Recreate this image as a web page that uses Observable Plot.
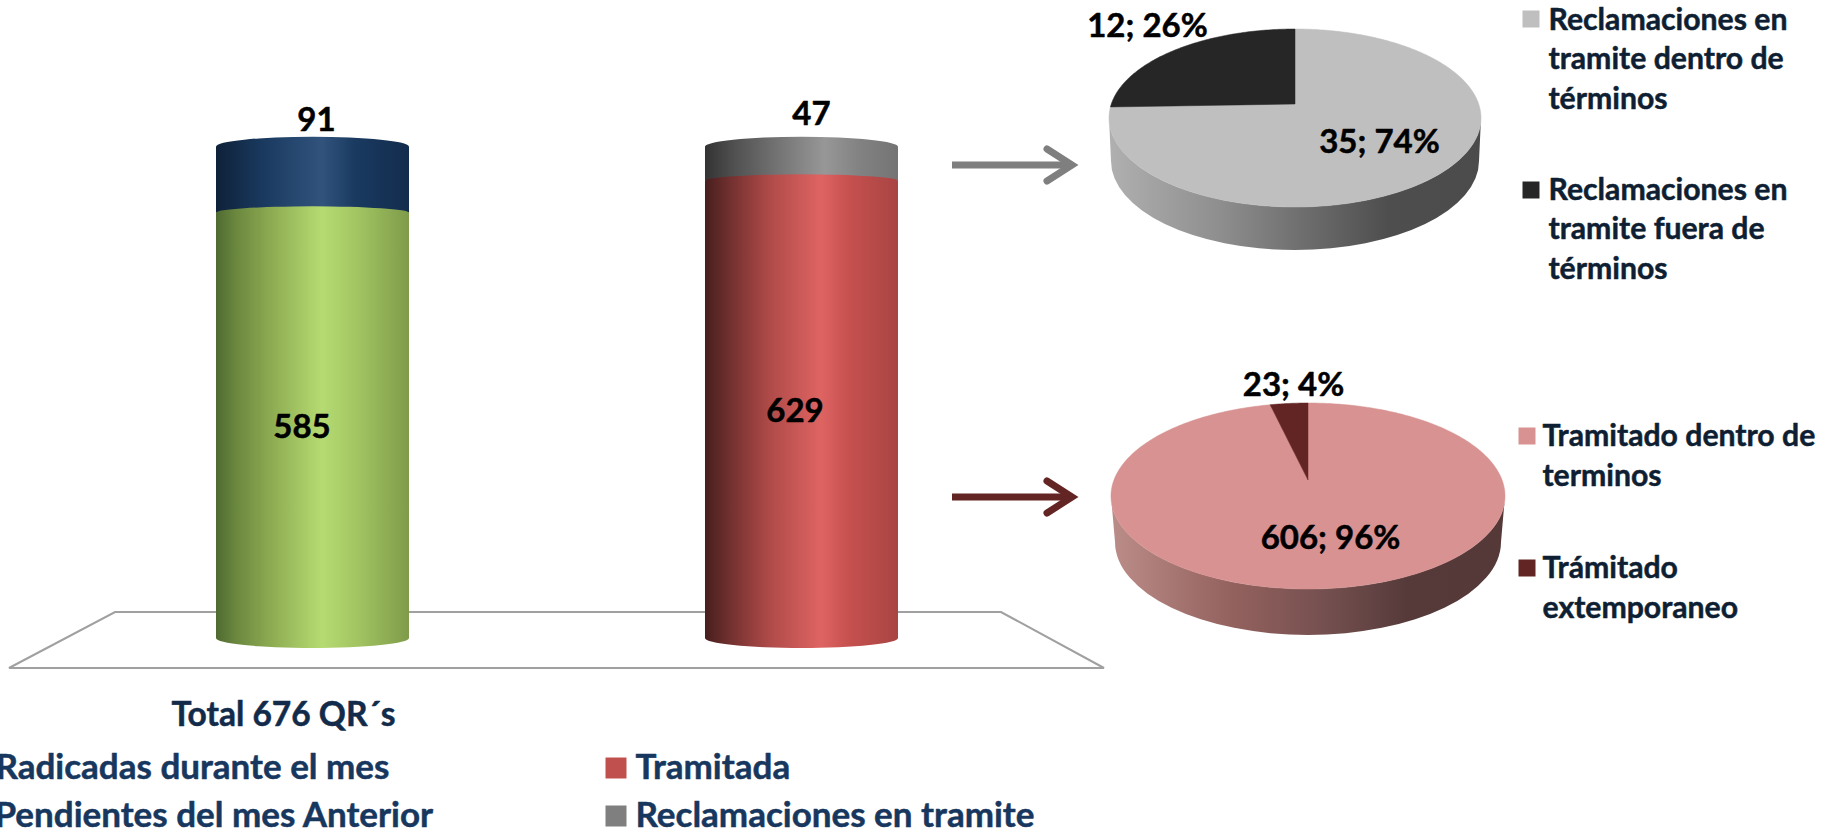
<!DOCTYPE html>
<html lang="es">
<head>
<meta charset="utf-8">
<script src="https://cdn.jsdelivr.net/npm/d3@7"></script>
<script src="https://cdn.jsdelivr.net/npm/@observablehq/plot@0.6"></script>
<style>
html,body{margin:0;padding:0;background:#fff;overflow:hidden}
svg{display:block}
</style>
</head>
<body>
<div id="chart"></div>
<script>
// --- Data ---
const barCategories = ["Total", "Gestion"];
const barSeries = ["Radicadas durante el mes", "Pendientes del mes Anterior", "Tramitada", "Reclamaciones en tramite"];
const barGroup = ["Total", "Total", "Gestion", "Gestion"];
const barValues = [585, 91, 629, 47];
const pieTopLabels = ["Reclamaciones en\ntramite dentro de\ntérminos", "Reclamaciones en\ntramite fuera de\ntérminos"];
const pieTopValues = [35, 12];
const pieLowLabels = ["Tramitado dentro de\nterminos", "Trámitado\nextemporaneo"];
const pieLowValues = [606, 23];
const titleText = "Total 676 QR´s";

// --- Styles ---
const FONT = "Lato, Carlito, sans-serif";
const NAVY = "#17375e";
const gradients = {
  "Radicadas durante el mes": [[0,"#4f6a31"],[.1,"#6a873e"],[.3,"#8fae53"],[.55,"#b6db72"],[.75,"#a0c260"],[1,"#7f9b4a"]],
  "Pendientes del mes Anterior": [[0,"#0e2139"],[.25,"#1a3a60"],[.55,"#31537c"],[.72,"#1a3a60"],[1,"#122c4d"]],
  "Tramitada": [[0,"#471e1e"],[.12,"#6f2f2e"],[.33,"#ae4a48"],[.6,"#de6462"],[.75,"#c5504e"],[1,"#a84543"]],
  "Reclamaciones en tramite": [[0,"#333333"],[.15,"#505050"],[.4,"#777777"],[.62,"#979797"],[.8,"#828282"],[1,"#747474"]]
};
const gid = s => "grad" + barSeries.indexOf(s);

const rows = barValues.map((value, i) => ({group: barGroup[i], serie: barSeries[i], value}));
const tops = barCategories.map(group => {
  const own = rows.filter(r => r.group === group);
  return {group, total: d3.sum(own, r => r.value), value: own[own.length - 1].value};
});

function renderCylinders(index, scales, values) {
  const g = d3.create("svg:g");
  const defs = g.append("defs");
  for (const s of barSeries) {
    const lg = defs.append("linearGradient").attr("id", gid(s));
    for (const [o, c] of gradients[s]) lg.append("stop").attr("offset", o).attr("stop-color", c);
  }
  const w = scales.x.bandwidth();
  const base = scales.y(0);
  const order = Array.from(index).sort((a, b) => values.y2[a] - values.y2[b]);
  for (const i of order) {
    const x0 = values.x[i], x1 = x0 + w;
    const top = Math.min(values.y1[i], values.y2[i]), bottom = Math.max(values.y1[i], values.y2[i]);
    const isBase = Math.abs(bottom - base) < 1;
    const rise = isBase ? 6.5 : 10;
    let d = `M${x0},${top}A${w/2},${rise} 0 0 1 ${x1},${top}L${x1},${bottom}`;
    d += isBase ? `A${w/2},10 0 0 1 ${x0},${bottom}Z` : `L${x0},${bottom}Z`;
    g.append("path").attr("d", d).attr("fill", `url(#${gid(rows[i].serie)})`);
  }
  return g.node();
}

// Base plane behind the cylinders
const plane = () => d3.create("svg:path")
  .attr("d", "M9,668L115,612L1001,612L1104,668Z")
  .attr("fill", "none").attr("stroke", "#a0a0a0").attr("stroke-width", 2).node();

const arrow = (y, color) => () => {
  const g = d3.create("svg:g").attr("fill", "none").attr("stroke", color).attr("stroke-width", 7);
  g.append("path").attr("d", `M952,${y}L1070,${y}`);
  g.append("path").attr("d", `M1047,${y-16}L1072,${y}L1047,${y+16}`)
    .attr("stroke-linecap", "round").attr("stroke-linejoin", "miter");
  return g.node();
};

// Pie in a tilted view: slices come from d3.pie, points through a perspective map of the disc.
function pie3d(vals, colors, side, o) {
  return () => {
    const g = d3.create("svg:g");
    const lg = g.append("defs").append("linearGradient").attr("id", o.id);
    side.forEach(([p, c]) => lg.append("stop").attr("offset", p).attr("stop-color", c));
    const {cx, cy, rx, ry, depth, a, inset} = o;
    g.append("path")
      .attr("d", `M${cx-rx},${cy}A${rx},${ry} 0 0 0 ${cx+rx},${cy}L${cx+rx-inset},${cy+depth}A${rx-inset},${ry} 0 0 1 ${cx-rx+inset},${cy+depth}Z`)
      .attr("fill", `url(#${o.id})`);
    const s = Math.sqrt(1 - a*a);
    const project = t => {
      const u = Math.sin(t), v = -Math.cos(t);
      const k = 1 + a*v;
      return [cx + rx*u*s/k, cy + ry*(v + a)/k];
    };
    d3.pie().sort(null)(vals).forEach((arc, i) => {
      const pts = [[cx, cy + ry*a]];
      const n = Math.max(4, Math.ceil((arc.endAngle - arc.startAngle) * 60));
      for (let k = 0; k <= n; k++) pts.push(project(arc.startAngle + (arc.endAngle - arc.startAngle)*k/n));
      g.append("path").attr("d", "M" + pts.map(p => p.join(",")).join("L") + "Z")
        .attr("fill", colors[i]).attr("stroke", colors[i]).attr("stroke-width", .5);
    });
    return g.node();
  };
}

const pct = (v, arr) => `${v}; ${Math.round(100*v/d3.sum(arr))}%`;

// Text placed from the frame's top-left corner
const label = (text, x, y, size, fill, extra = {}) => Plot.text([text], {
  frameAnchor: "top-left", dx: x, dy: y, text: d => d, fontFamily: FONT, fontWeight: 700,
  fontSize: size, fill, stroke: fill, strokeWidth: 0.5, textAnchor: "start", lineAnchor: "middle", ...extra
});
const swatch = (x, y, side, color) => Plot.dot([0], {
  frameAnchor: "top-left", dx: x + side/2, dy: y + side/2, symbol: "square",
  r: side / 1.7725, fill: color, stroke: "none"
});
const midLabel = (group, dx) => Plot.text(rows, Plot.stackY({
  filter: d => d.group === group && d.value > 100, x: "group", y: "value", z: "serie",
  text: d => String(d.value), dx, dy: 2, fontFamily: FONT, fontWeight: 700, fontSize: N,
  fill: "#000", stroke: "#000", strokeWidth: 0.5
}));
const topLabel = (group, dx, dy) => Plot.text(tops.filter(d => d.group === group), {
  x: "group", y: "total", text: d => String(d.value), dx, dy,
  fontFamily: FONT, fontWeight: 700, fontSize: N, fill: "#000", stroke: "#000", strokeWidth: 0.5
});

const pieTopColors = ["#bfbfbf", "#262626"];
const pieLowColors = ["#d79291", "#632523"];
const N = 33;               // numbers
const L = 30.2, LH = 39.5/L; // legends next to the pies
const B = 35;               // bottom legend

const plot = Plot.plot({
  width: 1823, height: 830,
  marginTop: 0, marginRight: 0, marginBottom: 0, marginLeft: 0,
  style: {background: "#fff"},
  x: {type: "band", domain: barCategories, range: [216, 898], paddingInner: 0.6053, paddingOuter: 0, round: false, axis: null},
  y: {domain: [0, 676], range: [638, 146.7], axis: null},
  marks: [
    plane,
    Plot.barY(rows, Plot.stackY({x: "group", y: "value", z: "serie", render: renderCylinders})),
    midLabel("Total", -11),
    midLabel("Gestion", -7),
    topLabel("Total", 3.5, -27),
    topLabel("Gestion", 9.5, -33),
    arrow(165, "#7f7f7f"),
    arrow(497, "#632523"),
    pie3d(pieTopValues, pieTopColors, [[0,"#b0b0b0"],[.3,"#8e8e8e"],[.55,"#6a6a6a"],[.75,"#4e4e4e"],[1,"#4b4b4b"]],
      {id: "sideTop", cx: 1295, cy: 118, rx: 186, ry: 89, depth: 43, a: -0.157, inset: 2}),
    pie3d(pieLowValues, pieLowColors, [[0,"#bb8d89"],[.3,"#94625f"],[.55,"#744f4f"],[.75,"#563a3a"],[1,"#553938"]],
      {id: "sideLow", cx: 1308, cy: 496, rx: 197, ry: 93, depth: 46, a: -0.172, inset: 4}),
    label(pct(pieTopValues[1], pieTopValues), 1147, 26, N, "#000", {textAnchor: "middle"}),
    label(pct(pieTopValues[0], pieTopValues), 1379, 142, N, "#000", {textAnchor: "middle"}),
    label(pct(pieLowValues[1], pieLowValues), 1293, 385, N, "#000", {textAnchor: "middle"}),
    label(pct(pieLowValues[0], pieLowValues), 1330, 538, N, "#000", {textAnchor: "middle"}),
    swatch(1522, 10, 17, pieTopColors[0]),
    label(pieTopLabels[0], 1548, 56, L, "#0f1f33", {lineHeight: LH}),
    swatch(1522, 181, 17, pieTopColors[1]),
    label(pieTopLabels[1], 1548, 226, L, "#0f1f33", {lineHeight: LH}),
    swatch(1518, 427, 17, pieLowColors[0]),
    label(pieLowLabels[0], 1542, 453, L, "#0f1f33", {lineHeight: LH}),
    swatch(1518, 559, 17, pieLowColors[1]),
    label(pieLowLabels[1], 1542, 585, L, "#0f1f33", {lineHeight: LH}),
    label(titleText, 171, 715, 33.5, "#132b4a"),
    label(barSeries[0], -5, 767, B, NAVY),
    label(barSeries[1], -6, 815, B, NAVY),
    swatch(605, 757, 21, "#c0504d"),
    label(barSeries[2], 635, 767, B, NAVY),
    swatch(605, 805, 21, "#7f7f7f"),
    label(barSeries[3], 635, 815, B, NAVY)
  ]
});
document.getElementById("chart").appendChild(plot);
</script>
</body>
</html>
